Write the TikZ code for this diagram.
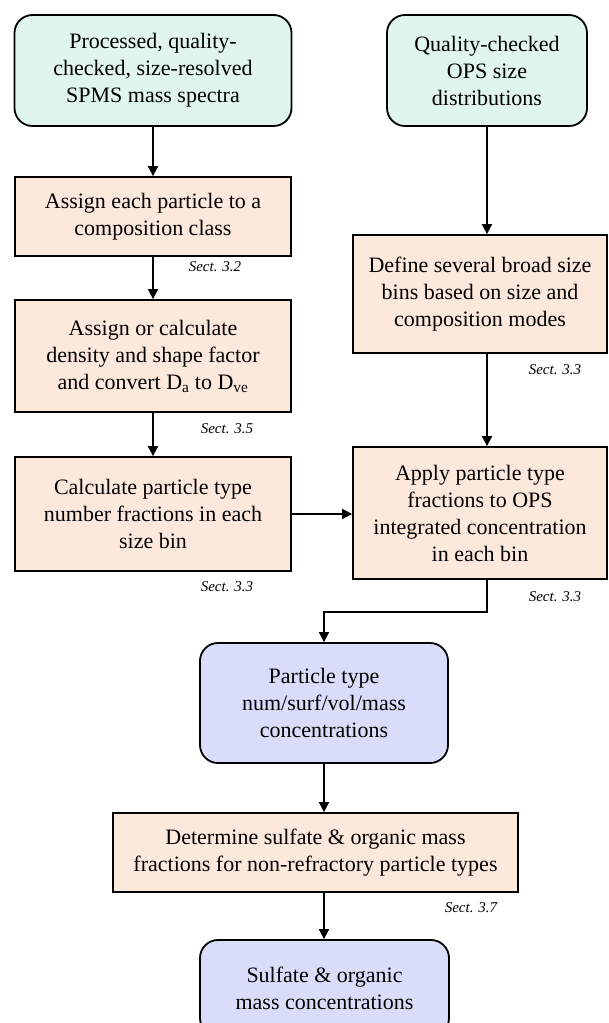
\documentclass[tikz,border=0pt]{standalone}
\usepackage{fontspec}
\setmainfont{Liberation Serif}
\usetikzlibrary{arrows.meta}
\definecolor{gfill}{HTML}{E0F5EC}
\definecolor{pfill}{HTML}{FDE9DC}
\definecolor{lfill}{HTML}{DADDFA}
\tikzset{
  base/.style={draw=black, line width=1.8pt, align=center, inner sep=0pt,
    font=\fontsize{22}{27}\selectfont},
  startbox/.style={base, fill=gfill, rounded corners=18pt},
  procbox/.style={base, fill=pfill},
  outbox/.style={base, fill=lfill, rounded corners=18pt},
  sect/.style={font=\fontsize{15}{18}\selectfont\itshape, inner sep=0pt},
  arr/.style={line width=1.8pt, -{Triangle[length=10pt,width=10pt]}},
}
\begin{document}
\begin{tikzpicture}[x=1pt,y=-1pt]
\useasboundingbox (0,0) rectangle (608,1023);
\begin{scope}
\clip (0,0) rectangle (608,1023);
\node[startbox, minimum width=277pt, minimum height=111pt] (A) at (153,70.5)
  {Processed, quality-\\checked, size-resolved\\SPMS mass spectra};
\node[procbox, minimum width=276pt, minimum height=79pt] (B) at (153,216.5)
  {Assign each particle to a\\composition class};
\node[procbox, minimum width=276pt, minimum height=112pt] (C) at (153,356)
  {Assign or calculate\\density and shape factor\\and convert D\textsubscript{a} to D\textsubscript{ve}};
\node[procbox, minimum width=276pt, minimum height=114pt] (D) at (153,514)
  {Calculate particle type\\number fractions in each\\size bin};
\node[startbox, minimum width=200pt, minimum height=111pt] (E) at (487,70.5)
  {Quality-checked\\OPS size\\distributions};
\node[procbox, minimum width=254pt, minimum height=118pt] (F) at (480,294)
  {Define several broad size\\bins based on size and\\composition modes};
\node[procbox, minimum width=254pt, minimum height=132pt] (G) at (480,513)
  {Apply particle type\\fractions to OPS\\integrated concentration\\in each bin};
\node[outbox, minimum width=248pt, minimum height=120pt] (H) at (324,703)
  {Particle type\\num/surf/vol/mass\\concentrations};
\node[procbox, minimum width=405pt, minimum height=79pt] (I) at (315.5,852.5)
  {Determine sulfate \& organic mass\\fractions for non-refractory particle types};
\node[outbox, minimum width=249pt, minimum height=96pt] (J) at (324.5,988)
  {Sulfate \& organic\\mass concentrations};
\end{scope}
\node[sect] (s1) at (215,267) {Sect. 3.2};
\node[sect] (s2) at (227,429) {Sect. 3.5};
\node[sect] (s3) at (227,587) {Sect. 3.3};
\node[sect] (s4) at (555,370) {Sect. 3.3};
\node[sect] (s5) at (555,597) {Sect. 3.3};
\node[sect] (s6) at (471,908) {Sect. 3.7};
\coordinate (gh) at (0,612);
\draw[arr] (A) -- (B);
\draw[arr] (B) -- (C);
\draw[arr] (C) -- (D);
\draw[arr] (E) -- (E.south |- F.north);
\draw[arr] (E.south |- F.south) -- (E.south |- G.north);
\draw[arr] (D.east) -- (D.east -| G.west);
\draw[arr] (E.south |- G.south) -- (E.south |- gh) -- (gh -| H.north) -- (H.north);
\draw[arr] (H.south) -- (H.south |- I.north);
\draw[arr] (H.south |- I.south) -- (H.south |- J.north);
\end{tikzpicture}
\end{document}
